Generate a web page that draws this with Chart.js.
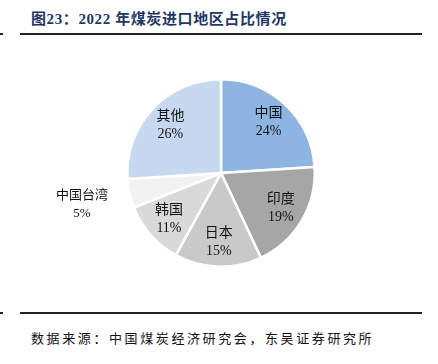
<!DOCTYPE html>
<html><head><meta charset="utf-8">
<script src="https://cdn.jsdelivr.net/npm/chart.js@4/dist/chart.umd.min.js"></script>
<style>
html,body{margin:0;padding:0;background:#fff;width:438px;height:364px;overflow:hidden;position:relative;}
#title{position:absolute;left:31px;top:7px;font-family:"Liberation Serif","Noto Sans CJK SC",serif;font-weight:bold;font-size:15px;color:#1F3864;letter-spacing:0.6px;white-space:nowrap;}
.line{position:absolute;left:20px;width:402px;height:2px;background:#222;}
.tick{position:absolute;left:0;width:3px;height:2px;background:#222;}
#foot{position:absolute;left:31px;top:328px;font-family:"Liberation Serif","Noto Sans CJK SC",serif;font-size:13px;color:#111;letter-spacing:2.6px;white-space:nowrap;}
#wrap{position:absolute;left:0;top:40px;width:438px;height:265px;}
</style></head><body>
<div id="title">图23：2022 年煤炭进口地区占比情况</div>
<div class="tick" style="top:33px"></div><div class="line" style="top:33px"></div>
<div class="tick" style="top:312px"></div><div class="line" style="top:312px"></div>
<div id="wrap"><canvas id="c"></canvas></div>
<div id="foot">数据来源：中国煤炭经济研究会，东吴证券研究所</div>
<script>
const categories = ["中国", "印度", "日本", "韩国", "中国台湾", "其他"];
const shares = [24, 19, 15, 11, 5, 26];
const colors = ["#8EB4E3", "#A6A6A6", "#C9C9C9", "#D9D9D9", "#F2F2F2", "#C6D9F1"];

const labelPlugin = {
  id: 'sliceLabels',
  afterDatasetsDraw(chart) {
    const ctx = chart.ctx;
    const meta = chart.getDatasetMeta(0);
    ctx.save();
    ctx.fillStyle = '#111';
    ctx.textAlign = 'center';
    ctx.textBaseline = 'middle';
    meta.data.forEach((arc, i) => {
      const p = arc.getProps(['x','y','startAngle','endAngle','outerRadius'], true);
      const mid = (p.startAngle + p.endAngle) / 2;
      const outside = shares[i] < 8;
      const r = p.outerRadius * (outside ? 1.52 : 0.74);
      const cx = p.x + Math.cos(mid) * r;
      const cy = p.y + Math.sin(mid) * r;
      ctx.font = (outside ? '13px' : '14px') + ' "Liberation Serif", "Noto Sans CJK SC", serif';
      ctx.fillText(categories[i], cx, cy - 9);
      ctx.fillText(shares[i] + '%', cx, cy + 9);
    });
    ctx.restore();
  }
};

new Chart(document.getElementById('c'), {
  type: 'pie',
  data: {
    labels: categories,
    datasets: [{ data: shares, backgroundColor: colors, borderColor: '#fff', borderWidth: 2.5 }]
  },
  options: {
    responsive: true,
    maintainAspectRatio: false,
    animation: false,
    layout: { padding: { left: 126, right: 122, top: 38, bottom: 37 } },
    plugins: { legend: { display: false }, tooltip: { enabled: false } }
  },
  plugins: [labelPlugin]
});
</script>
</body></html>
